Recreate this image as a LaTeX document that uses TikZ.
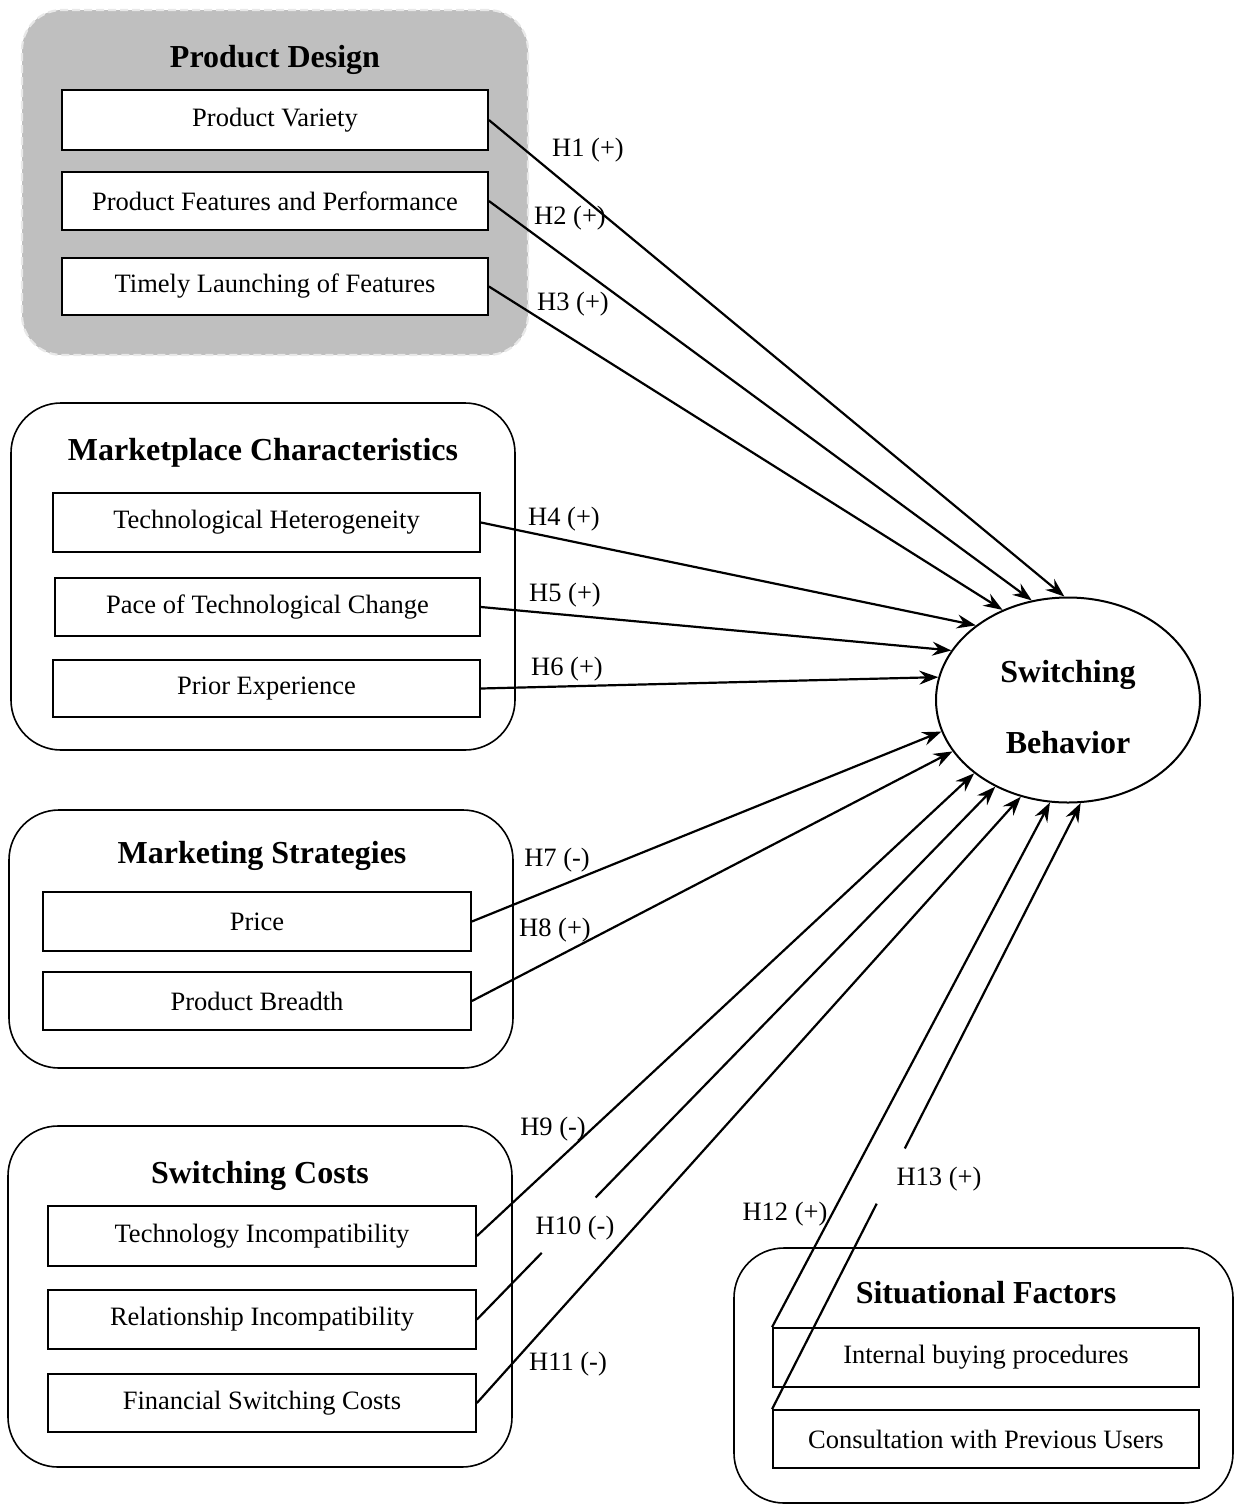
\documentclass[tikz,border=0pt]{standalone}
\usepackage{fontspec}
\setmainfont{Liberation Serif}
\usetikzlibrary{shapes.geometric,arrows.meta,calc}
\begin{document}
\begin{tikzpicture}[x=1pt,y=-1pt,
 groupbox/.style={draw=black, line width=1.6pt, rounded corners=50pt, inner sep=0pt},
 pdbox/.style={draw=gray!18, fill=gray!50, line width=2.2pt, dash pattern=on 8pt off 4pt, rounded corners=40pt, inner sep=0pt},
 item/.style={draw=black, line width=1.8pt, fill=white, inner sep=0pt, font=\fontsize{26.5}{31}\selectfont},
 ttl/.style={font=\fontsize{32}{37}\selectfont\bfseries},
 hyp/.style={font=\fontsize{26.5}{31}\selectfont, inner sep=0pt},
 link/.style={line width=2.2pt, -{Stealth[length=19pt,width=14pt,inset=6.5pt]}},
 plain/.style={line width=2.2pt}]
\useasboundingbox (0,0) rectangle (1235,1505);

% groups
\node[pdbox, minimum width=506pt, minimum height=345pt] (gpd) at (275,182.5) {};
\node[groupbox, minimum width=504pt, minimum height=347pt] (gmc) at (263,576.5) {};
\node[groupbox, minimum width=504pt, minimum height=258pt] (gms) at (261,939) {};
\node[groupbox, minimum width=504pt, minimum height=341pt] (gsc) at (260,1296.5) {};
\node[groupbox, minimum width=499pt, minimum height=255pt] (gsf) at (983.5,1375.5) {};

% titles
\node[ttl] (tpd) at (275,60) {Product Design};
\node[ttl] (tmc) at (263,453) {Marketplace Characteristics};
\node[ttl] (tms) at (262,856) {Marketing Strategies};
\node[ttl] (tsc) at (260,1176) {Switching Costs};
\node[ttl] (tsf) at (986,1293) {Situational Factors};

% items
\node[item, minimum width=426pt, minimum height=60pt] (pv) at (275,120) {Product Variety};
\node[item, minimum width=426pt, minimum height=58pt] (pfp) at (275,201) {Product Features and Performance};
\node[item, minimum width=426pt, minimum height=57pt] (tlf) at (275,286.5) {Timely Launching of Features};
\node[item, minimum width=427pt, minimum height=59pt] (th) at (266.5,522.5) {Technological Heterogeneity};
\node[item, minimum width=425pt, minimum height=58pt] (ptc) at (267.5,607) {Pace of Technological Change};
\node[item, minimum width=427pt, minimum height=57pt] (pe) at (266.5,688.5) {Prior Experience};
\node[item, minimum width=428pt, minimum height=59pt] (price) at (257,921.5) {Price};
\node[item, minimum width=428pt, minimum height=58pt] (pb) at (257,1001) {Product Breadth};
\node[item, minimum width=428pt, minimum height=60pt] (ti) at (262,1236) {Technology Incompatibility};
\node[item, minimum width=428pt, minimum height=59pt] (ri) at (262,1319.5) {Relationship Incompatibility};
\node[item, minimum width=428pt, minimum height=58pt] (fsc) at (262,1403) {Financial Switching Costs};
\node[item, minimum width=426pt, minimum height=59pt] (ibp) at (986,1357.5) {Internal buying procedures};
\node[item, minimum width=426pt, minimum height=58pt] (cpu) at (986,1439) {Consultation with Previous Users};

% outcome
\node[draw=black, ellipse, line width=2pt, fill=white, minimum width=264pt, minimum height=205pt, inner sep=0pt] (sw) at (1068,700) {};
\node[ttl, align=center] (swt) at (1068,707) {Switching\\[34pt]Behavior};

% connectors
\draw[link] (pv.east) -- (sw.92);
\draw[link] (pfp.east) -- (sw.110);
\draw[link] (tlf.east) -- (sw.126);
\draw[link] (th.east) -- (sw.141.4);
\draw[link] (ptc.east) -- (sw.157);
\draw[link] (pe.east) -- (sw.170.4);
\draw[link] (price.east) -- (sw.194.5);
\draw[link] (pb.east) -- (sw.204.4);
\draw[link] (ti.east) -- (sw.218);
\draw[plain] (ri.east) -- ($(ri.east)!0.125!(sw.230.5)$);
\draw[link] ($(ri.east)!0.229!(sw.230.5)$) -- (sw.230.5);
\draw[link] (fsc.east) -- (sw.244.8);
\draw[link] (ibp.north west) -- (sw.260.7);
\draw[plain] (cpu.north west) -- ($(cpu.north west)!0.339!(sw.277.2)$);
\draw[link] ($(cpu.north west)!0.43!(sw.277.2)$) -- (sw.277.2);

% hypothesis labels
\node[hyp] (h1) at (588,150) {H1 (+)};
\node[hyp] (h2) at (570,218) {H2 (+)};
\node[hyp] (h3) at (573,304) {H3 (+)};
\node[hyp] (h4) at (564,519) {H4 (+)};
\node[hyp] (h5) at (565,595) {H5 (+)};
\node[hyp] (h6) at (567,669) {H6 (+)};
\node[hyp] (h7) at (557,860) {H7 (-)};
\node[hyp] (h8) at (555,930) {H8 (+)};
\node[hyp] (h9) at (553,1129) {H9 (-)};
\node[hyp] (h10) at (575,1228) {H10 (-)};
\node[hyp] (h11) at (568,1364) {H11 (-)};
\node[hyp] (h12) at (785,1214) {H12 (+)};
\node[hyp] (h13) at (939,1179) {H13 (+)};
\end{tikzpicture}
\end{document}
